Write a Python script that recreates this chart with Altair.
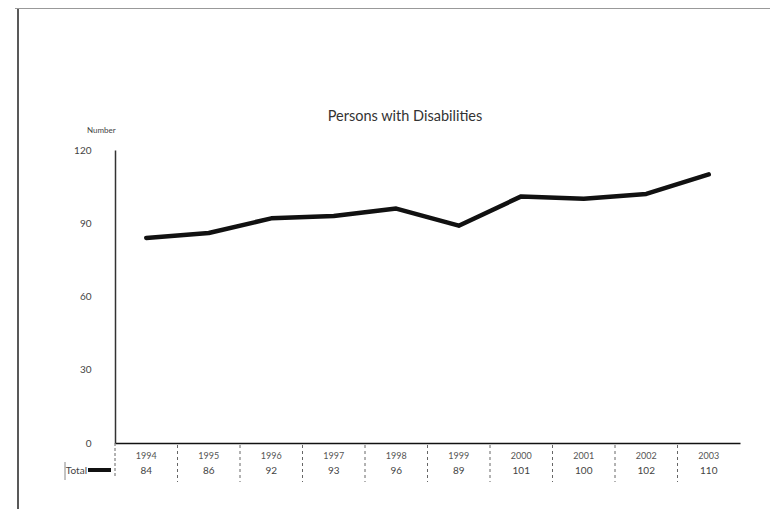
import altair as alt
import pandas as pd

years = [1994, 1995, 1996, 1997, 1998, 1999, 2000, 2001, 2002, 2003]
totals = [84, 86, 92, 93, 96, 89, 101, 100, 102, 110]
y_ticks = [0, 30, 60, 90, 120]
title_text = "Persons with Disabilities"
y_label = "Number"
series_name = "Total"

FONT = "Lato"
df = pd.DataFrame({"year": years, "total": totals})
df["year_s"] = df["year"].astype(str)
df["total_s"] = df["total"].astype(str)
sep = pd.DataFrame({"b": [y - 0.5 for y in years[1:]]})
left_sep = pd.DataFrame({"b": [years[0] - 0.5]})

xs = alt.Scale(domain=[years[0] - 0.5, years[-1] + 0.5], nice=False, zero=False)
ys = alt.Scale(domain=[0, 120], nice=False)

base = alt.Chart(df)

line = base.mark_line(color="#111111", strokeWidth=4.5, strokeJoin="round", strokeCap="round").encode(
    x=alt.X("year:Q", scale=xs, axis=alt.Axis(title=None, labels=False, ticks=False, grid=False,
                                               domainColor="#111111", domainWidth=1.5)),
    y=alt.Y("total:Q", scale=ys, axis=alt.Axis(title=None, values=y_ticks, ticks=False, grid=False,
                                                domainColor="#333333", domainWidth=1.5,
                                                labelFont=FONT, labelFontSize=10, labelColor="#444444",
                                                labelPadding=24)),
)

year_txt = base.mark_text(font=FONT, fontSize=9, color="#555555").encode(
    x=alt.X("year:Q", scale=xs), y=alt.value(306), text="year_s:N")
val_txt = base.mark_text(font=FONT, fontSize=10, color="#444444").encode(
    x=alt.X("year:Q", scale=xs), y=alt.value(321), text="total_s:N")

seps = alt.Chart(sep).mark_rule(color="#666666", strokeWidth=1, strokeDash=[3, 3]).encode(
    x=alt.X("b:Q", scale=xs), y=alt.value(295), y2=alt.value(332))
lsep = alt.Chart(left_sep).mark_rule(color="#666666", strokeWidth=1, strokeDash=[3, 2]).encode(
    x=alt.X("b:Q", scale=xs), y=alt.value(293), y2=alt.value(328))

legend_line = alt.Chart(pd.DataFrame({"n": [series_name]})).mark_rule(color="#111111", strokeWidth=4).encode(
    x=alt.value(-27), x2=alt.value(-4), y=alt.value(320))
legend_txt = alt.Chart(pd.DataFrame({"n": [series_name]})).mark_text(
    font=FONT, fontSize=10, color="#444444", align="right").encode(
    x=alt.value(-28), y=alt.value(321), text="n:N")
legend_bar = alt.Chart(pd.DataFrame({"n": [series_name]})).mark_rule(color="#888888", strokeWidth=1).encode(
    x=alt.value(-50), y=alt.value(312), y2=alt.value(330))

title = alt.Chart(pd.DataFrame({"t": [title_text]})).mark_text(
    font=FONT, fontSize=14.5, color="#333333").encode(
    x=alt.value(290), y=alt.value(-33), text="t:N")
ylab = alt.Chart(pd.DataFrame({"t": [y_label]})).mark_text(
    font=FONT, fontSize=8, color="#444444", align="left").encode(
    x=alt.value(-28), y=alt.value(-19), text="t:N")

border_left = alt.Chart(pd.DataFrame({"n": [1]})).mark_rule(color="#222222", strokeWidth=1.5).encode(
    x=alt.value(-97), y=alt.value(-142), y2=alt.value(365))
border_top = alt.Chart(pd.DataFrame({"n": [1]})).mark_rule(color="#999999", strokeWidth=1).encode(
    x=alt.value(-100), x2=alt.value(660), y=alt.value(-141.5))

chart = alt.layer(
    border_left, border_top, title, ylab, seps, lsep, year_txt, val_txt,
    legend_bar, legend_txt, legend_line, line
).properties(
    width=625, height=293,
    autosize=alt.AutoSizeParams(type="none"),
    padding={"left": 107, "top": 142, "right": 30, "bottom": 66},
    background="white",
).configure_view(stroke=None)

chart.save("out.html", embed_options={"renderer": "svg", "actions": False})
